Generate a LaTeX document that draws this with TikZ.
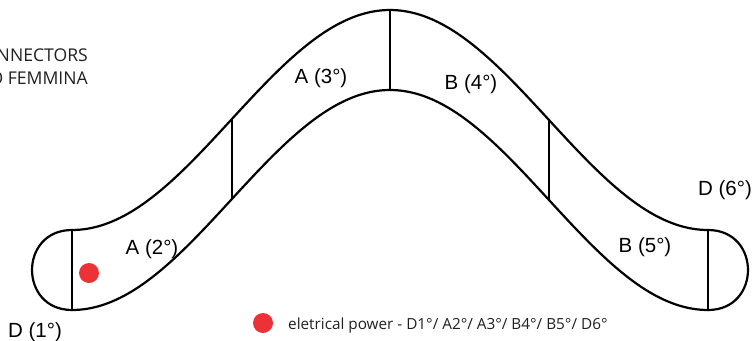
\documentclass[tikz,border=0pt]{standalone}
\usepackage{fontspec}
\setmainfont{Liberation Sans}
\newfontfamily\legfont{Open Sans}
\definecolor{dotred}{RGB}{237,50,55}
\definecolor{legtext}{RGB}{35,31,32}
\begin{document}
\begin{tikzpicture}[x=1pt,y=-1pt,
  pipe/.style={line width=2.2pt, line join=round, line cap=round},
  lbl/.style={font=\fontsize{20.5}{24}\selectfont, inner sep=0pt, anchor=base},
  leg/.style={font=\legfont\fontsize{15.3}{18}\selectfont, text=legtext, inner sep=0pt},
  head/.style={font=\legfont\fontsize{17.6}{21}\selectfont, text=legtext, inner sep=0pt},
  reddot/.style={fill=dotred, draw=none}]
\useasboundingbox (0,0) rectangle (754,340);
% outer and inner curves of the bent tube
\draw[pipe] plot[domain=72:708,samples=160,smooth] (\x,{120-110*cos((\x-390)/318*180)});
\draw[pipe] plot[domain=72:708,samples=160,smooth] (\x,{200-110*cos((\x-390)/318*180)});
% divider end points
\pgfmathsetmacro{\ya}{120-110*cos((232-390)/318*180)}
\pgfmathsetmacro{\yb}{120-110*cos((549-390)/318*180)}
\coordinate (d1t) at (72,230);  \coordinate (d1b) at (72,310);
\coordinate (d2t) at (232,\ya); \coordinate (d2b) at (232,\ya+80);
\coordinate (d3t) at (390,10);  \coordinate (d3b) at (390,90);
\coordinate (d4t) at (549,\yb); \coordinate (d4b) at (549,\yb+80);
\coordinate (d5t) at (708,230); \coordinate (d5b) at (708,310);
\foreach \n in {1,...,5} \draw[pipe] (d\n t) -- (d\n b);
% end caps
\draw[pipe] (d1t) .. controls (18.7,230) and (18.7,310) .. (d1b);
\draw[pipe] (d5t) .. controls (761.3,230) and (761.3,310) .. (d5b);
% labels
\node[lbl] (la3) at (321,83) {A (3°)};
\node[lbl] (lb4) at (471,89) {B (4°)};
\node[lbl] (la2) at (152,254) {A (2°)};
\node[lbl] (lb5) at (645,252) {B (5°)};
\node[lbl] (ld6) at (725,195) {D (6°)};
\node[lbl] (ld1) at (35,337) {D (1°)};
% power marker and legend
\fill[reddot] (89,273) circle (10) coordinate (p1);
\fill[reddot] (263,323) circle (10) coordinate (p2);
\node[leg, anchor=base west] (legend) at (288,329) {eletrical power - D1°/ A2°/ A3°/ B4°/ B5°/ D6°};
% clipped heading
\node[head, anchor=base east] (h1) at (88,61.5) {NNECTORS};
\node[head, anchor=base east] (h2) at (88,84.5) {O FEMMINA};
\end{tikzpicture}
\end{document}
